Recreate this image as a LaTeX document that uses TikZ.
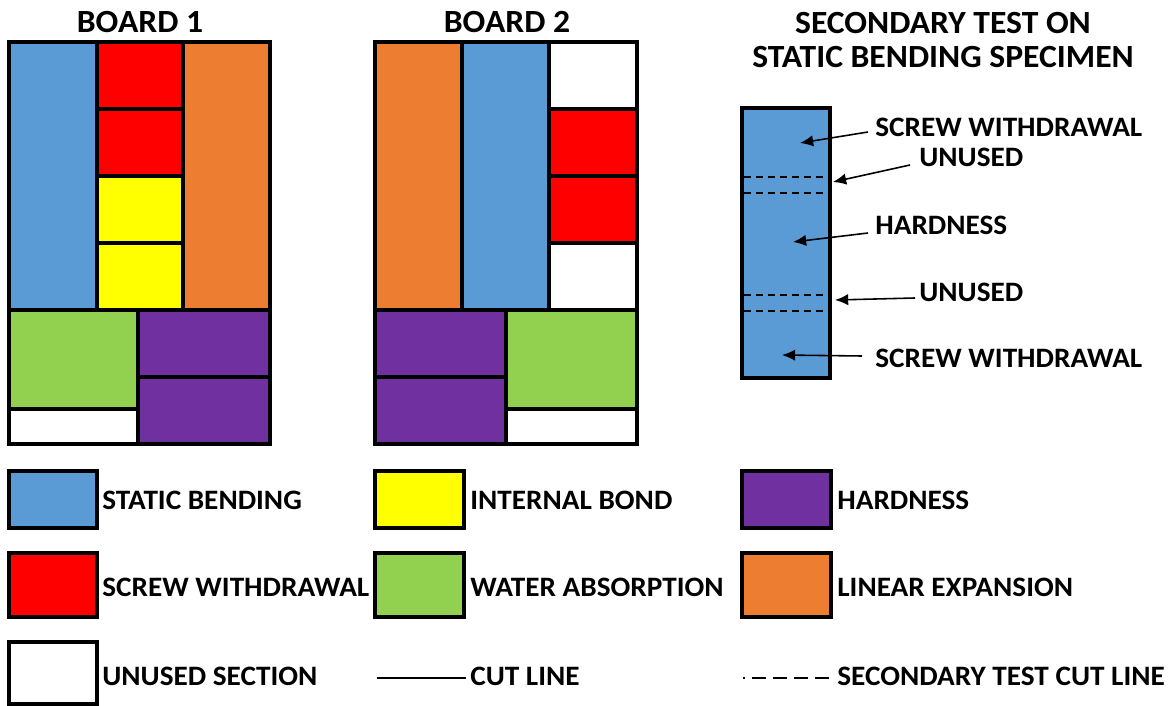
\documentclass[tikz,border=0pt]{standalone}
\usepackage{fontspec}
\setmainfont{Carlito}[FakeStretch=1.04]
\usetikzlibrary{arrows.meta}
\definecolor{sbblue}{HTML}{5B9BD5}
\definecolor{swred}{HTML}{FF0000}
\definecolor{ibyellow}{HTML}{FFFF00}
\definecolor{hdpurple}{HTML}{7030A0}
\definecolor{wagreen}{HTML}{92D050}
\definecolor{leorange}{HTML}{ED7D31}

\begin{document}
\begin{tikzpicture}[x=0.02cm,y=-0.02cm,cell/.style={draw=black,line width=1.9pt},lbl/.style={anchor=west,inner sep=0pt,font=\fontsize{16}{18}\selectfont\bfseries},ttl/.style={inner sep=0pt,align=center,font=\fontsize{18.4}{19.8}\selectfont\bfseries},cutdash/.style={dash pattern=on 4pt off 2.8pt,line width=0.9pt},ptr/.style={line width=0.9pt,-{Latex[length=7.5pt,width=6.5pt]}}]
	\useasboundingbox (0,0) rectangle (1171,706);
	\node[ttl] (b1) at (140,22) {BOARD 1};
	\node[ttl] (b2) at (507,22) {BOARD 2};
	\node[ttl] (sec) at (943,40) {SECONDARY TEST ON\\STATIC BENDING SPECIMEN};
	\draw[cell,fill=sbblue] (9,42) rectangle (97,310);
	\draw[cell,fill=swred] (97,42) rectangle (183,109);
	\draw[cell,fill=swred] (97,109) rectangle (183,176);
	\draw[cell,fill=ibyellow] (97,176) rectangle (183,243);
	\draw[cell,fill=ibyellow] (97,243) rectangle (183,310);
	\draw[cell,fill=leorange] (183,42) rectangle (270,310);
	\draw[cell,fill=wagreen] (9,310) rectangle (138,409);
	\draw[cell,fill=white] (9,409) rectangle (138,444);
	\draw[cell,fill=hdpurple] (138,310) rectangle (270,377);
	\draw[cell,fill=hdpurple] (138,377) rectangle (270,444);
	\draw[cell,fill=leorange] (375,42) rectangle (462,310);
	\draw[cell,fill=sbblue] (462,42) rectangle (549,310);
	\draw[cell,fill=white] (549,42) rectangle (637,109);
	\draw[cell,fill=swred] (549,109) rectangle (637,176);
	\draw[cell,fill=swred] (549,176) rectangle (637,243);
	\draw[cell,fill=white] (549,243) rectangle (637,310);
	\draw[cell,fill=hdpurple] (375,310) rectangle (506,377);
	\draw[cell,fill=hdpurple] (375,377) rectangle (506,444);
	\draw[cell,fill=wagreen] (506,310) rectangle (637,409);
	\draw[cell,fill=white] (506,409) rectangle (637,444);
	\draw[cell,fill=sbblue] (742,108) rectangle (830,378);
	\draw[cutdash] (744,177) -- (828,177);
	\draw[cutdash] (744,193) -- (828,193);
	\draw[cutdash] (744,295) -- (828,295);
	\draw[cutdash] (744,311) -- (828,311);
	\coordinate (sw1) at (800,143);
	\coordinate (un1) at (833,182);
	\coordinate (hd) at (793,242);
	\coordinate (un2) at (835,300);
	\coordinate (sw2) at (782,355);
	\node[lbl] (lsw1) at (875,127) {SCREW WITHDRAWAL};
	\node[lbl] (lun1) at (919,157) {UNUSED};
	\node[lbl] (lhd) at (875,225) {HARDNESS};
	\node[lbl] (lun2) at (919,292) {UNUSED};
	\node[lbl] (lsw2) at (875,358) {SCREW WITHDRAWAL};
	\draw[ptr] ([shift={(-7,5)}]lsw1.west) -- (sw1);
	\draw[ptr] ([shift={(-9,8)}]lun1.west) -- (un1);
	\draw[ptr] ([shift={(-7,8)}]lhd.west) -- (hd);
	\draw[ptr] ([shift={(-4,6)}]lun2.west) -- (un2);
	\draw[ptr] ([shift={(-13,-2)}]lsw2.west) -- (sw2);
	\draw[cell,fill=sbblue] (9,471) rectangle (97,528);
	\node[lbl] (ksb) at (102,500) {STATIC BENDING};
	\draw[cell,fill=ibyellow] (375,471) rectangle (464,528);
	\node[lbl] (kib) at (470,500) {INTERNAL BOND};
	\draw[cell,fill=hdpurple] (742,471) rectangle (831,528);
	\node[lbl] (khd) at (837,500) {HARDNESS};
	\draw[cell,fill=swred] (9,553) rectangle (97,617);
	\node[lbl] (ksw) at (102,587) {SCREW WITHDRAWAL};
	\draw[cell,fill=wagreen] (375,553) rectangle (464,617);
	\node[lbl] (kwa) at (470,587) {WATER ABSORPTION};
	\draw[cell,fill=leorange] (742,553) rectangle (831,617);
	\node[lbl] (kle) at (837,587) {LINEAR EXPANSION};
	\draw[cell,fill=white] (9,642) rectangle (97,704);
	\node[lbl] (kun) at (102,676) {UNUSED SECTION};
	\node[lbl] (kcut) at (470,676) {CUT LINE};
	\node[lbl] (kst) at (837,676) {SECONDARY TEST CUT LINE};
	\draw[line width=1.7pt] ([shift={(-93,2)}]kcut.west) -- ([shift={(-4,2)}]kcut.west);
	\draw[line width=1.4pt,dash pattern=on 1pt off 4pt on 8pt off 4pt on 8pt off 4pt on 8pt off 4pt on 8pt off 4pt] ([shift={(-94,2)}]kst.west) -- ([shift={(-6,2)}]kst.west);
\end{tikzpicture}
\end{document}
